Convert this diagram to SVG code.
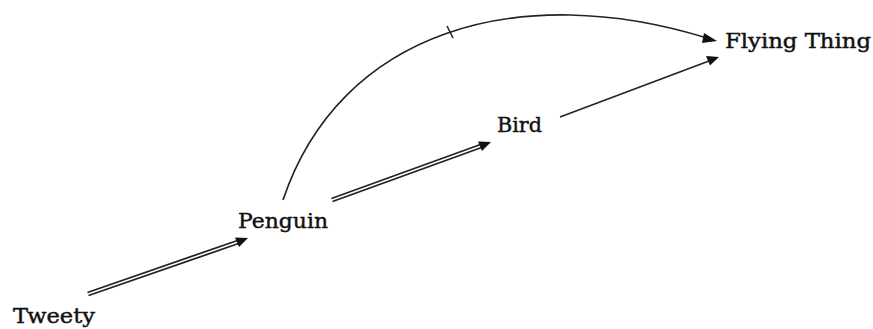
<svg xmlns="http://www.w3.org/2000/svg" width="873" height="329" viewBox="0 0 873 329">
<style>
text{font-family:"DejaVu Serif","Liberation Serif",serif;font-size:21px;fill:#111;stroke:#111;stroke-width:0.45}
.dbl-o{fill:none;stroke:#222;stroke-width:5}
.dbl-i{fill:none;stroke:#fff;stroke-width:1.5}
.sgl{fill:none;stroke:#222;stroke-width:1.6}
.head{fill:#111}
</style>
<rect width="873" height="329" fill="#fff"/>
<g id="connectors">
  <g id="e-tweety-penguin">
    <path class="dbl-o" d="M88,294 L238,242"/>
    <path class="dbl-i" d="M88,294 L238,242"/>
    <polygon class="head" points="248,238 235,237.5 239,247"/>
  </g>
  <g id="e-penguin-bird">
    <path class="dbl-o" d="M332,200 L481,146"/>
    <path class="dbl-i" d="M332,200 L481,146"/>
    <polygon class="head" points="491,142 478,141.5 482,151"/>
  </g>
  <g id="e-bird-flying">
    <path class="sgl" d="M560,117 L709,61"/>
    <polygon class="head" points="719,57 706,56 710,65.5"/>
  </g>
  <g id="e-penguin-flying">
    <path class="sgl" d="M283,200 C340,30 520,-20 707,38"/>
    <polygon class="head" points="717,41 704,33 702,43"/>
    <line x1="447" y1="26" x2="453" y2="38" stroke="#222" stroke-width="1.5"/>
  </g>
</g>
<g id="tweety"><text x="13" y="323" textLength="82" lengthAdjust="spacingAndGlyphs">Tweety</text></g>
<g id="penguin"><text x="238" y="228" textLength="90" lengthAdjust="spacingAndGlyphs">Penguin</text></g>
<g id="bird"><text x="497" y="132" textLength="45" lengthAdjust="spacingAndGlyphs">Bird</text></g>
<g id="flying-thing"><text x="725" y="48" textLength="146" lengthAdjust="spacingAndGlyphs">Flying Thing</text></g>
</svg>
